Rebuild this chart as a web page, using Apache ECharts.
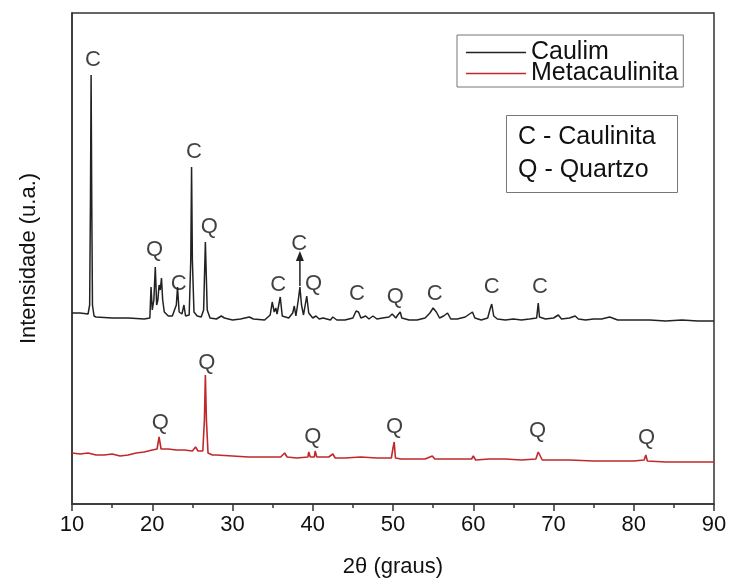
<!DOCTYPE html>
<html>
<head>
<meta charset="utf-8">
<script src="https://cdn.jsdelivr.net/npm/echarts@6/dist/echarts.min.js"></script>
<style>
html, body { margin: 0; padding: 0; background: #fff; }
#chart { width: 729px; height: 586px; }
</style>
</head>
<body>
<div id="chart"></div>
<script>
// difratograma: [2theta, intensidade (u.a.)]
var caulim = [
	[10, 191], [11, 191], [12.0, 190], [12.2, 199], [12.3, 304], [12.38, 429], [12.46, 304], [12.55, 199], [12.75, 188],
	[13, 187], [15, 186], [17, 186], [19, 185], [19.7, 186], [19.85, 217], [20.0, 194], [20.2, 204], [20.38, 237],
	[20.55, 199], [20.7, 204], [20.85, 219], [21.0, 214], [21.15, 226], [21.3, 204], [21.5, 192], [22, 188], [22.5, 188],
	[23.0, 199], [23.15, 217], [23.35, 192], [23.7, 190], [23.95, 199], [24.15, 188], [24.6, 189], [24.8, 244],
	[24.9, 337], [25.0, 244], [25.2, 192], [25.6, 188], [26.1, 187], [26.4, 194], [26.62, 262], [26.85, 194],
	[27.2, 186], [28, 185], [28.6, 188], [29.0, 186], [30, 184], [31, 185], [32.1, 187], [32.6, 185], [34, 184],
	[34.7, 189], [34.95, 202], [35.2, 192], [35.4, 196], [35.55, 190], [35.95, 207], [36.2, 188], [37.0, 186],
	[37.5, 191], [37.7, 198], [37.9, 188], [38.2, 204], [38.4, 217], [38.6, 199], [38.85, 189], [39.25, 208],
	[39.5, 191], [40.0, 186], [40.4, 188], [40.8, 185], [41.3, 186], [42.2, 184], [42.5, 187], [43, 184], [44, 184],
	[45, 186], [45.4, 193], [45.7, 192], [46, 186], [46.6, 188], [47, 185], [47.5, 188], [48, 185], [48.7, 186],
	[49.5, 187], [49.9, 190], [50.1, 192], [50.35, 186], [50.6, 189], [50.9, 192], [51.1, 186], [52, 184], [53, 184],
	[54, 186], [54.6, 191], [55.0, 196], [55.4, 192], [55.8, 186], [56.3, 188], [56.8, 191], [57.2, 185], [58, 185],
	[59, 187], [59.9, 192], [60.2, 186], [61, 184], [61.8, 186], [62.1, 195], [62.3, 200], [62.55, 188], [63, 185],
	[64, 184], [65, 185], [66, 184], [67, 185], [67.9, 186], [68.1, 201], [68.25, 187], [69, 185], [70, 186],
	[70.6, 189], [71, 185], [72, 186], [72.7, 188], [73.1, 185], [74, 184], [75, 185], [76, 185], [77, 187],
	[78, 184], [80, 184], [82, 184], [84, 183], [86, 184], [88, 183], [90, 183]
];
var metacaulinita = [
	[10, 51], [11, 50], [12, 51], [13, 49], [14, 49], [15, 50], [16, 48], [17, 49], [18, 51], [19, 52], [20, 54],
	[20.6, 55], [20.85, 67], [21.1, 55], [22, 55], [23, 54], [24, 54], [25, 53], [25.4, 57], [25.7, 53], [26.3, 53],
	[26.5, 84], [26.62, 129], [26.75, 84], [26.95, 51], [27.5, 49], [28, 49], [30, 48], [32, 47], [34, 47], [36, 47],
	[36.5, 51], [36.8, 47], [38, 46], [39.4, 47], [39.5, 52], [39.7, 47], [40.2, 47], [40.3, 53], [40.5, 47], [42, 47],
	[42.5, 50], [42.8, 46], [44, 46], [46, 47], [48, 46], [49.8, 46], [50.0, 56], [50.15, 62], [50.3, 46], [51, 45],
	[52, 45], [54, 45], [54.9, 48], [55.2, 45], [57, 45], [59.8, 45], [60, 48], [60.3, 44], [62, 45], [64, 45],
	[66, 44], [67.8, 45], [68.1, 52], [68.3, 54], [68.6, 44], [70, 44], [72, 44], [75, 43], [78, 43], [80, 43],
	[81.3, 44], [81.5, 49], [81.7, 43], [84, 42], [86, 42], [88, 42], [90, 42]
];
// identificacao dos picos: [2theta, posicao do rotulo, fase]
var caulimPicos = [
	[12.6, 444, 'C'], [20.3, 254, 'Q'], [23.3, 220, 'C'], [25.2, 352, 'C'], [27.1, 277, 'Q'], [35.7, 219, 'C'],
	[38.3, 260, 'C'], [40.1, 220, 'Q'], [45.5, 210, 'C'], [50.3, 207, 'Q'], [55.2, 210, 'C'], [62.3, 217, 'C'],
	[68.3, 217, 'C']
];
var metaPicos = [
	[21.0, 81, 'Q'], [26.8, 141, 'Q'], [40.0, 67, 'Q'], [50.2, 77, 'Q'], [68.0, 73, 'Q'], [81.6, 66, 'Q']
];
// seta do pico em 38,4
var seta = [[38.4, 218], [38.4, 248]];

var FONT = '"Liberation Sans", Arial, sans-serif';

function rotulos(nome, dados) {
	return {
		name: nome,
		type: 'scatter',
		data: dados,
		symbolSize: 1,
		itemStyle: { color: 'rgba(0,0,0,0)' },
		silent: true,
		label: {
			show: true,
			position: 'inside',
			formatter: function (p) { return p.value[2]; },
			color: '#111',
			fontSize: 22,
			fontFamily: FONT
		},
		z: 5
	};
}

var chart = echarts.init(document.getElementById('chart'));
var option = {
	animation: false,
	backgroundColor: '#fff',
	grid: {
		left: 72, right: 15, top: 13, bottom: 82,
		show: true, borderColor: '#333', borderWidth: 1.5,
		outerBoundsMode: 'none'
	},
	title: {
		text: 'C - Caulinita\nQ - Quartzo',
		left: 506, top: 115,
		borderColor: '#777', borderWidth: 1,
		padding: [6, 22, 6, 12],
		textStyle: { fontSize: 25, fontWeight: 'normal', color: '#111', fontFamily: FONT, lineHeight: 33 }
	},
	legend: {
		data: ['Caulim', 'Metacaulinita'],
		orient: 'vertical',
		left: 457, top: 35,
		padding: [5, 5, 1, 9],
		icon: 'rect',
		itemWidth: 60, itemHeight: 1.5, itemGap: -4,
		borderColor: '#777', borderWidth: 1,
		textStyle: { fontSize: 25, color: '#111', fontFamily: FONT, lineHeight: 21 }
	},
	xAxis: {
		type: 'value',
		min: 10, max: 90, interval: 10,
		name: '2θ (graus)',
		nameLocation: 'middle',
		nameGap: 52,
		nameTextStyle: { fontSize: 22, color: '#111', fontFamily: FONT },
		axisLine: { show: true, lineStyle: { color: '#333', width: 1.5 } },
		axisTick: { show: true, length: 7, lineStyle: { color: '#333', width: 1.5 } },
		minorTick: { show: true, splitNumber: 2, length: 4, lineStyle: { color: '#333', width: 1.5 } },
		axisLabel: { fontSize: 22, color: '#111', fontFamily: FONT, margin: 10 },
		splitLine: { show: false }
	},
	yAxis: {
		type: 'value',
		min: 0, max: 491,
		name: 'Intensidade (u.a.)',
		nameLocation: 'middle',
		nameGap: 32,
		nameTextStyle: { fontSize: 22, color: '#111', fontFamily: FONT },
		axisLine: { show: true, lineStyle: { color: '#333', width: 1.5 } },
		axisTick: { show: false },
		axisLabel: { show: false },
		splitLine: { show: false }
	},
	series: [
		{
			name: 'Caulim',
			type: 'line',
			data: caulim,
			symbol: 'none',
			color: '#222',
			lineStyle: { color: '#222', width: 1.5 }
		},
		{
			name: 'Metacaulinita',
			type: 'line',
			data: metacaulinita,
			symbol: 'none',
			color: '#c0282c',
			lineStyle: { color: '#c0282c', width: 1.6 }
		},
		rotulos('picos caulim', caulimPicos),
		rotulos('picos metacaulinita', metaPicos),
		{
			name: 'seta',
			type: 'line',
			data: seta,
			symbol: 'none',
			lineStyle: { color: '#222', width: 1.5 },
			markPoint: {
				silent: true,
				symbol: 'triangle',
				symbolSize: [8, 10],
				itemStyle: { color: '#222' },
				label: { show: false },
				data: [{ coord: seta[1] }]
			}
		}
	]
};
chart.setOption(option);
</script>
</body>
</html>
